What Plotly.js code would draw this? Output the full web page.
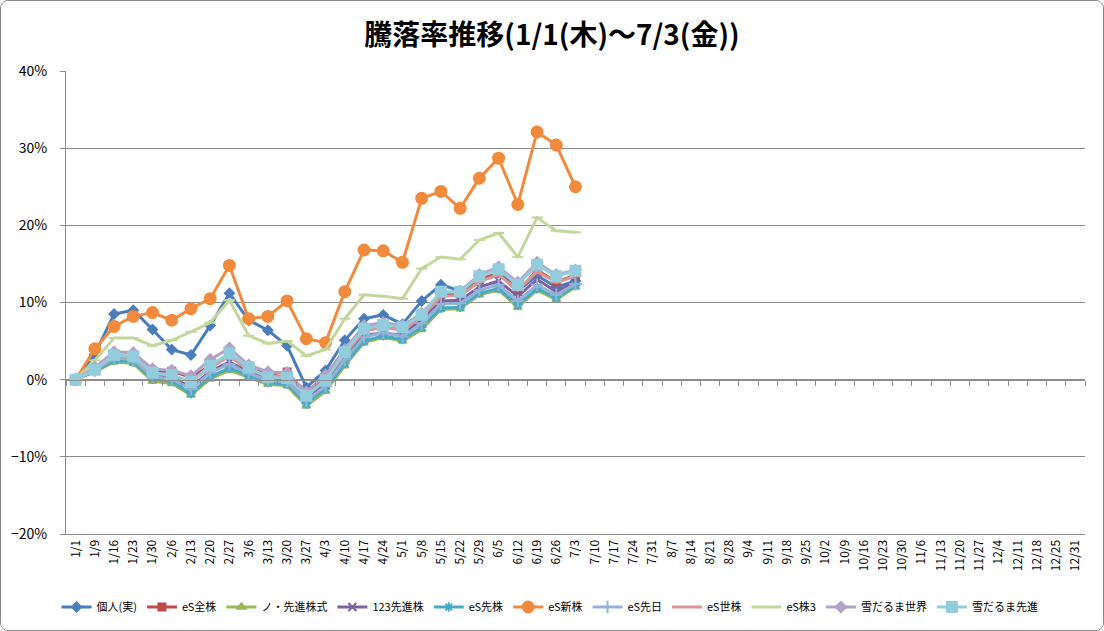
<!DOCTYPE html>
<html><head><meta charset="utf-8">
<script src="https://cdn.plot.ly/plotly-3.0.1.min.js"></script>
<style>
html,body{margin:0;padding:0;background:#fff;}
#wrap{position:absolute;left:0;top:0;width:1102px;height:629px;border:1px solid #8a8a8a;border-radius:8px;overflow:hidden;}
#chart{width:1102px;height:629px;}
</style></head>
<body><div id="wrap"><div id="chart"></div></div>
<script>
const categories = ["1/1","1/9","1/16","1/23","1/30","2/6","2/13","2/20","2/27","3/6","3/13","3/20","3/27","4/3","4/10","4/17","4/24","5/1","5/8","5/15","5/22","5/29","6/5","6/12","6/19","6/26","7/3","7/10","7/17","7/24","7/31","8/7","8/14","8/21","8/28","9/4","9/11","9/18","9/25","10/2","10/9","10/16","10/23","10/30","11/6","11/13","11/20","11/27","12/4","12/11","12/18","12/25","12/31"];

const kojin     = [0,3.3,8.5,9.0,6.5,3.9,3.2,7.0,11.2,7.7,6.4,4.4,-1.0,1.2,5.1,7.9,8.4,7.2,10.2,12.3,11.5,13.5,14.4,11.5,13.5,12.0,12.8];
const esZen     = [0,1.5,3.1,3.0,1.0,1.1,0.3,1.8,3.2,1.4,0.7,1.0,-1.9,0.2,3.5,6.6,7.1,6.7,8.3,11.1,11.1,13.0,13.8,11.4,14.2,12.7,13.5];
const noSenshin = [0,1.0,2.3,2.1,-0.2,-0.5,-2.0,0.1,1.2,0.3,-0.6,-0.8,-3.4,-1.5,1.8,4.8,5.5,5.0,6.5,9.1,9.2,11.0,11.6,9.4,11.6,10.4,12.0];
const s123      = [0,1.3,2.9,2.7,0.5,0.3,-1.0,1.1,2.3,1.0,0.1,0.0,-2.5,-0.5,2.9,5.8,6.0,5.8,7.8,10.2,10.3,12.0,12.8,10.8,13.0,11.4,12.7];
const esSen     = [0,1.1,2.5,2.3,0.1,-0.2,-1.8,0.4,1.5,0.5,-0.4,-0.6,-3.1,-1.2,2.1,5.0,5.7,5.2,6.8,9.3,9.4,11.2,11.8,9.7,11.8,10.6,12.2];
const esShin    = [0,4.0,6.9,8.2,8.7,7.7,9.2,10.5,14.8,7.9,8.2,10.2,5.3,4.8,11.4,16.8,16.7,15.2,23.5,24.4,22.2,26.1,28.7,22.7,32.1,30.4,25.0];
const esSenNichi= [0,1.2,2.8,2.6,0.4,0.1,-1.2,0.9,2.0,0.8,-0.1,-0.3,-2.7,-0.8,2.6,5.5,6.1,5.6,7.3,9.8,9.9,11.6,12.3,10.2,12.3,11.0,12.4];
const esSekai   = [0,1.4,3.0,2.9,0.8,0.6,-0.3,1.6,3.0,1.3,0.4,0.5,-2.0,0.0,3.3,6.3,6.8,6.4,8.1,10.8,10.9,12.7,13.6,11.6,14.0,12.6,13.4];
const es3       = [0,2.5,5.4,5.4,4.4,5.1,6.2,7.4,10.3,5.7,4.7,5.0,3.1,3.9,7.9,11.0,10.8,10.5,14.4,15.9,15.6,18.1,19.0,15.9,21.0,19.3,19.1];
const yukiSekai = [0,1.6,3.6,3.5,1.4,1.2,0.5,2.6,4.1,1.9,1.0,0.9,-1.6,0.6,3.9,7.0,7.4,7.0,8.6,11.3,11.4,13.6,14.6,12.6,15.2,13.6,14.2];
const yukiSenshin=[0,1.3,3.2,3.0,0.9,0.6,-0.3,1.8,3.4,1.6,0.3,0.2,-2.1,-0.1,3.6,6.6,7.1,6.8,8.4,11.4,11.4,13.4,14.3,12.3,14.9,13.4,14.1];

const seriesNames = ["個人(実)","eS全株","ノ・先進株式","123先進株","eS先株","eS新株","eS先日","eS世株","eS株3","雪だるま世界","雪だるま先進"];
const seriesData = [kojin,esZen,noSenshin,s123,esSen,esShin,esSenNichi,esSekai,es3,yukiSekai,yukiSenshin];
const colors = ["#4A7EBB","#BE4B48","#98B954","#7D60A0","#46AAC5","#F08A3C","#94B1D8","#D99694","#C3D69B","#B3A2C7","#93CDDD"];
const symbols = ["diamond","square","triangle-up","x-thin-open","asterisk-open","circle","cross-thin-open","line-ew-open","line-ew-open","diamond","square"];
const sizes = [7,7,7,8,8,11,9,8,8,8,10];

const xData = categories.slice(0, kojin.length);
const traces = seriesNames.map((n,i)=>({
  type:'scatter', mode:'lines+markers', name:n,
  x:xData, y:seriesData[i], xaxis:'x', yaxis:'y',
  line:{color:colors[i], width:3},
  marker:{symbol:symbols[i], size:sizes[i], color:colors[i], line:{color:colors[i], width:2}}
}));

const layout = {
  width:1102, height:629,
  margin:{l:65, r:18, t:70, b:96, autoexpand:false},
  paper_bgcolor:'#ffffff', plot_bgcolor:'#ffffff',
  font:{family:'"Noto Sans CJK JP", "Noto Sans", sans-serif', color:'#000', size:12},
  title:{text:'<b>騰落率推移(1/1(木)～7/3(金))</b>', x:0.5, xanchor:'center', y:1-34/629, yanchor:'middle', yref:'container', font:{size:28, color:'#000'}},
  showlegend:true,
  legend:{orientation:'h', x:0.475, xanchor:'center', yref:'container', y:1-606/629, yanchor:'middle', font:{size:11}, itemwidth:30, tracegroupgap:0},
  xaxis:{type:'category', categoryorder:'array', categoryarray:categories, range:[-0.5,52.5], automargin:false,
    tickangle:-90, tickfont:{size:12}, showgrid:false, showline:true, linecolor:'#8c8c8c', linewidth:1,
    ticks:'', zeroline:false, fixedrange:true},
  xaxis2:{overlaying:'x', anchor:'free', position:1/3, type:'linear', range:[-0.5,52.5], automargin:false,
    tick0:0.5, dtick:1, ticks:'outside', ticklen:5, tickcolor:'#8c8c8c', showticklabels:false,
    showgrid:false, showline:true, linecolor:'#8c8c8c', linewidth:1, zeroline:false},
  yaxis:{range:[-20,40], dtick:10, tick0:0, ticksuffix:'%', showgrid:true, gridcolor:'#8c8c8c', gridwidth:1, automargin:false,
    zeroline:false, showline:true, linecolor:'#8c8c8c', ticks:'outside', ticklen:5, tickcolor:'#8c8c8c',
    ticklabelstandoff:10, tickfont:{size:14}},
};
traces.unshift({type:'scatter', x:[0], y:[0], xaxis:'x2', yaxis:'y', mode:'markers', marker:{opacity:0}, showlegend:false, hoverinfo:'skip'});
Plotly.newPlot('chart', traces, layout, {displayModeBar:false, staticPlot:true});
</script></body></html>
